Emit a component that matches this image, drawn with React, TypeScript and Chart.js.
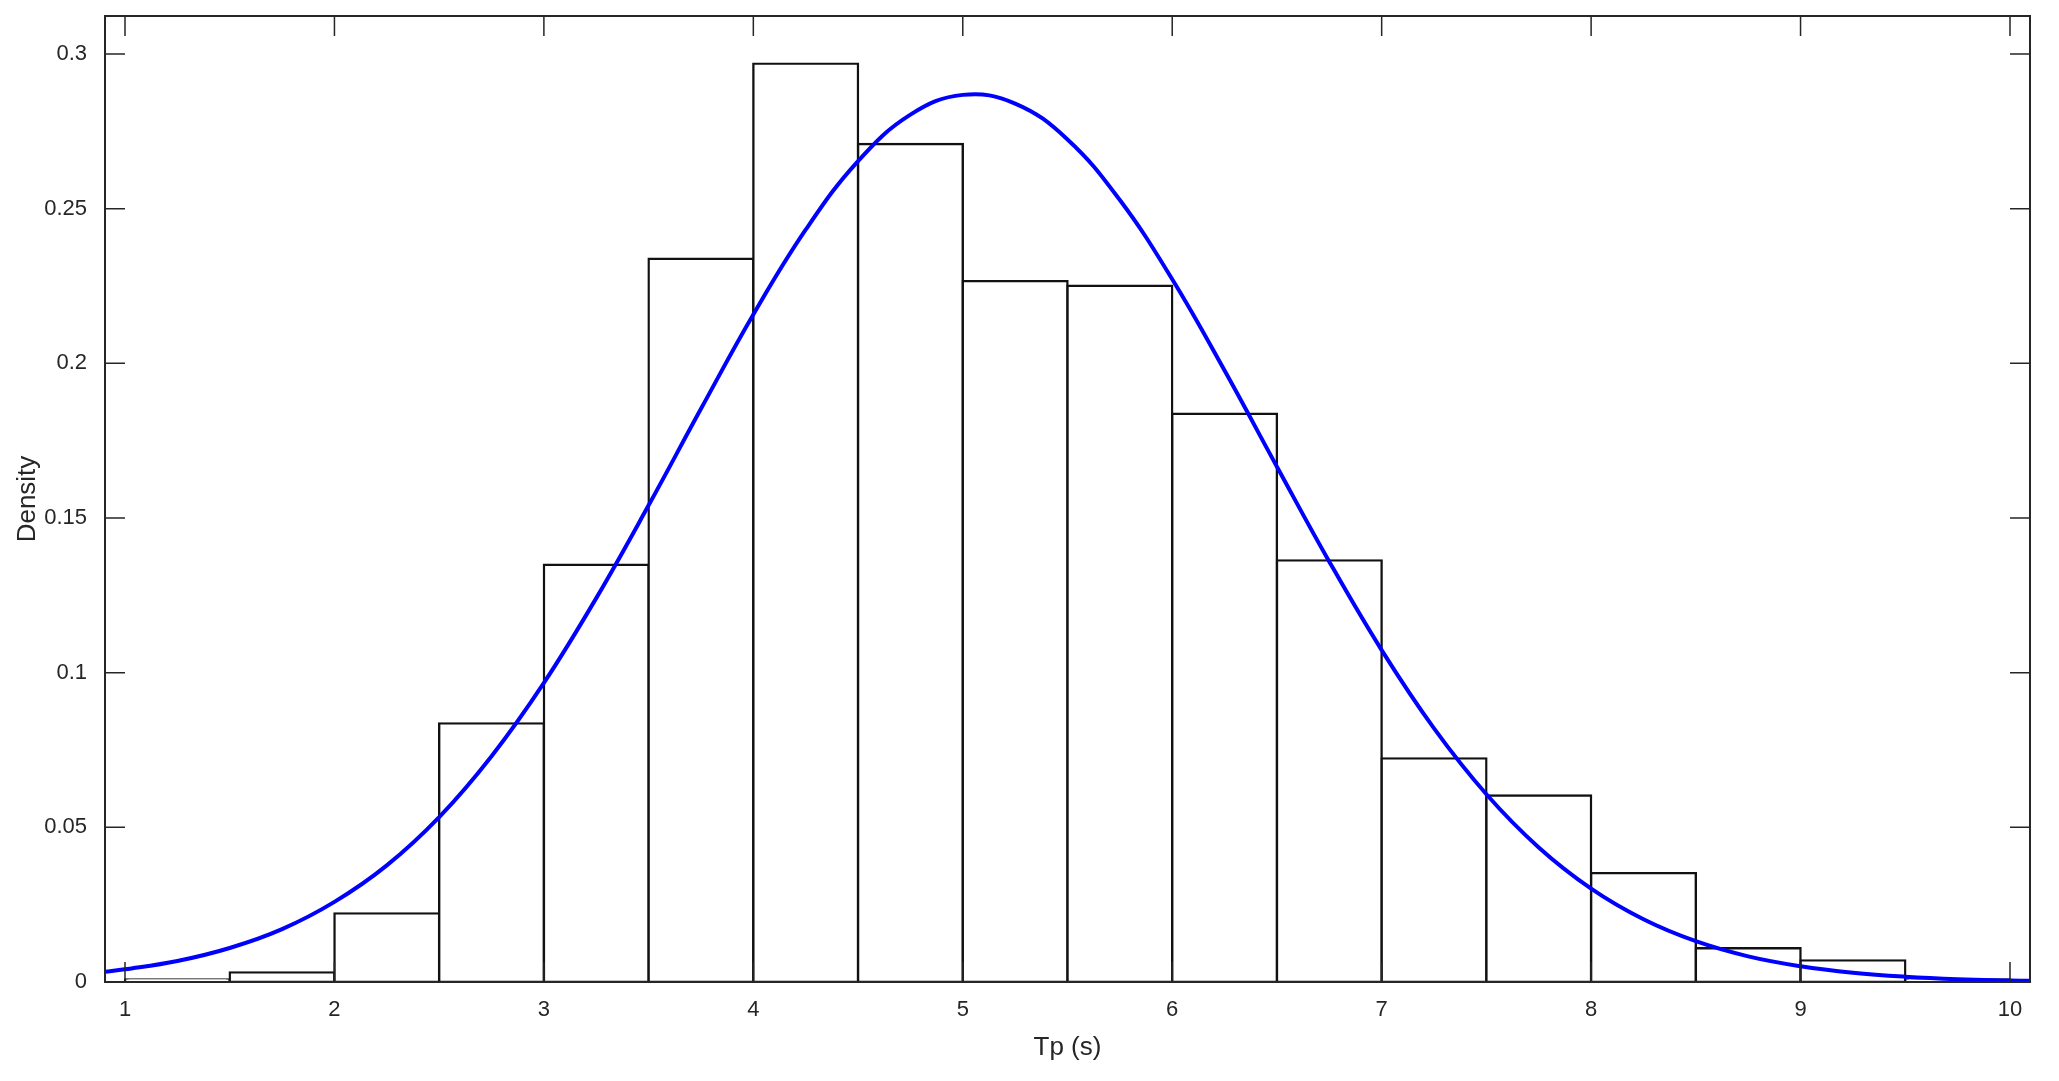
import React, { useEffect, useRef } from "react";
import { Chart, registerables } from "chart.js";

Chart.register(...registerables);

// ---- data ----
const binCenters = [1.25, 1.75, 2.25, 2.75, 3.25, 3.75, 4.25, 4.75, 5.25, 5.75, 6.25, 6.75, 7.25, 7.75, 8.25, 8.75, 9.25, 9.75];
const binDensity = [0.0008, 0.0031, 0.0222, 0.0836, 0.1349, 0.2338, 0.2969, 0.2709, 0.2266, 0.2251, 0.1837, 0.1363, 0.0723, 0.0603, 0.0352, 0.0109, 0.007, 0.0008];

const fitX = [0.9, 1.0, 1.25, 1.5, 1.75, 2.0, 2.25, 2.5, 2.75, 3.0, 3.25, 3.5, 3.75, 4.0, 4.25, 4.5, 4.75, 5.0, 5.25, 5.5, 5.75, 6.0, 6.25, 6.5, 6.75, 7.0, 7.25, 7.5, 7.75, 8.0, 8.25, 8.5, 8.75, 9.0, 9.25, 9.5, 9.75, 10.0, 10.1];
const fitDensity = [0.0033, 0.0041, 0.0068, 0.011, 0.0171, 0.0259, 0.0377, 0.0533, 0.073, 0.0967, 0.1241, 0.1541, 0.1853, 0.2158, 0.2432, 0.2654, 0.2804, 0.2868, 0.284, 0.2724, 0.2528, 0.2272, 0.1977, 0.1666, 0.1359, 0.1073, 0.082, 0.0607, 0.0435, 0.0302, 0.0203, 0.0132, 0.0083, 0.0051, 0.003, 0.0017, 0.0009, 0.0005, 0.0004];

const xTicks = [1, 2, 3, 4, 5, 6, 7, 8, 9, 10];
const xTickLabels = ["1", "2", "3", "4", "5", "6", "7", "8", "9", "10"];
const yTicks = [0, 0.05, 0.1, 0.15, 0.2, 0.25, 0.3];
const yTickLabels = ["0", "0.05", "0.1", "0.15", "0.2", "0.25", "0.3"];

const X_MIN = 0.9045;
const X_MAX = 10.0955;
const Y_MIN = 0;
const Y_MAX = 0.3123;

const X_TITLE = "Tp (s)";
const Y_TITLE = "Density";

// ---- style ----
const W = 2059;
const H = 1081;
const AXIS_COLOR = "#262626";
const FONT = "'Liberation Sans', Arial, Helvetica, sans-serif";
const TICK_LEN = 20;

const boxPlugin = {
  id: "matlabBox",
  afterDatasetsDraw(chart: any) {
    const { ctx, chartArea } = chart;
    const { left, right, top, bottom } = chartArea;
    const xs = chart.scales.x;
    const ys = chart.scales.y;
    ctx.save();
    ctx.strokeStyle = AXIS_COLOR;
    ctx.lineWidth = 1.5;
    ctx.beginPath();
    xs.ticks.forEach((t: any) => {
      const px = xs.getPixelForValue(t.value);
      ctx.moveTo(px, bottom);
      ctx.lineTo(px, bottom - TICK_LEN);
      ctx.moveTo(px, top);
      ctx.lineTo(px, top + TICK_LEN);
    });
    ys.ticks.forEach((t: any) => {
      const py = ys.getPixelForValue(t.value);
      ctx.moveTo(left, py);
      ctx.lineTo(left + TICK_LEN, py);
      ctx.moveTo(right, py);
      ctx.lineTo(right - TICK_LEN, py);
    });
    ctx.stroke();
    ctx.lineWidth = 2;
    ctx.strokeRect(left, top, right - left, bottom - top);
    ctx.restore();
  },
};

export default function App() {
  const ref = useRef<HTMLCanvasElement | null>(null);

  useEffect(() => {
    if (!ref.current) return;
    const chart = new Chart(ref.current, {
      type: "bar",
      data: {
        datasets: [
          {
            type: "bar",
            label: "Histogram",
            data: binCenters.map((x, i) => ({ x, y: binDensity[i] })),
            backgroundColor: "#ffffff",
            borderColor: "#111111",
            borderWidth: 2.4,
            borderSkipped: false,
            inflateAmount: 1.2,
            barPercentage: 1,
            categoryPercentage: 1,
            order: 2,
          } as any,
          {
            type: "line",
            label: "Fit",
            data: fitX.map((x, i) => ({ x, y: fitDensity[i] })),
            borderColor: "#0000ff",
            borderWidth: 4,
            pointRadius: 0,
            fill: false,
            tension: 0.4,
            order: 1,
          } as any,
        ],
      },
      options: {
        responsive: false,
        animation: false,
        devicePixelRatio: 1,
        layout: { padding: { left: 0, top: 16, right: 29, bottom: 0 } },
        plugins: {
          legend: { display: false },
          tooltip: { enabled: false },
        },
        scales: {
          x: {
            type: "linear",
            min: X_MIN,
            max: X_MAX,
            offset: false,
            grid: { display: false, offset: false },
            border: { display: false },
            afterBuildTicks: (s: any) => {
              s.ticks = xTicks.map((v) => ({ value: v }));
            },
            afterFit: (s: any) => {
              s.height = 99;
              s.paddingLeft = 0;
              s.paddingRight = 0;
            },
            ticks: {
              autoSkip: false,
              maxRotation: 0,
              padding: 7,
              color: AXIS_COLOR,
              font: { family: FONT, size: 22 },
              callback: (_v: any, i: number) => xTickLabels[i],
            },
            title: {
              display: true,
              text: X_TITLE,
              color: AXIS_COLOR,
              font: { family: FONT, size: 26 },
              padding: { top: 0, bottom: 18 },
            },
          },
          y: {
            type: "linear",
            min: Y_MIN,
            max: Y_MAX,
            grid: { display: false },
            border: { display: false },
            afterBuildTicks: (s: any) => {
              s.ticks = yTicks.map((v) => ({ value: v }));
            },
            afterFit: (s: any) => {
              s.width = 105;
              s.paddingTop = 0;
              s.paddingBottom = 0;
            },
            ticks: {
              padding: 10,
              color: AXIS_COLOR,
              font: { family: FONT, size: 22 },
              callback: (_v: any, i: number) => yTickLabels[i],
            },
            title: {
              display: true,
              text: Y_TITLE,
              color: AXIS_COLOR,
              font: { family: FONT, size: 26 },
              padding: { top: 12, bottom: 12 },
            },
          },
        },
      } as any,
      plugins: [boxPlugin],
    });
    return () => chart.destroy();
  }, []);

  return (
    <div style={{ position: "absolute", left: 0, top: 0, width: W, height: H, background: "#fff" }}>
      <canvas ref={ref} width={W} height={H} style={{ display: "block", width: W, height: H }} />
    </div>
  );
}
